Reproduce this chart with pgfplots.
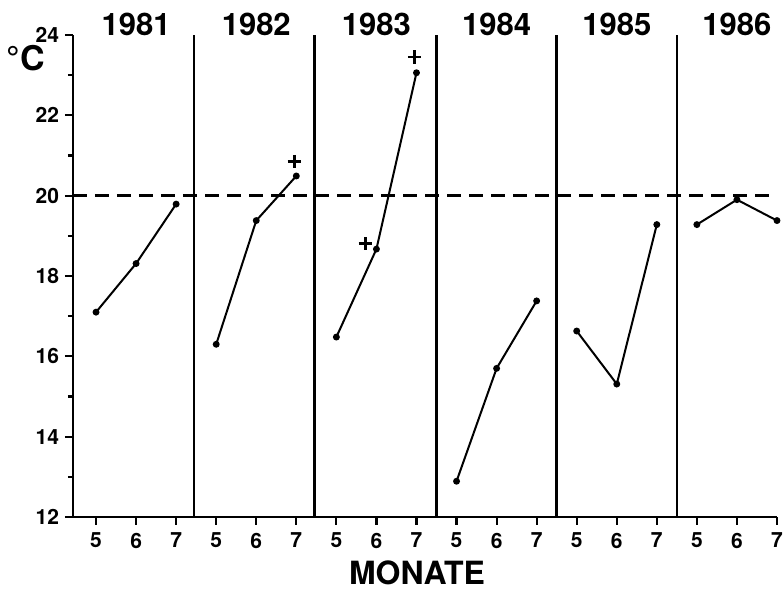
\documentclass[border=0pt]{standalone}
\usepackage{fontspec}
\setmainfont{TeX Gyre Heros}
\usepackage{pgfplots}
\pgfplotsset{compat=1.18}
\tikzset{year/.style={font=\fontsize{15.5}{18}\selectfont\bfseries, anchor=center, yshift=5.5pt}}
\begin{document}
\begin{tikzpicture}
\begin{axis}[
  at={(36.5pt,36.5pt)}, anchor=south west,
  scale only axis, width=352pt, height=241pt,
  xmin=-0.575, xmax=17, ymin=12, ymax=24,
  axis x line*=bottom, axis y line*=left,
  axis line style={line width=1.4pt, -},
  xtick={0,...,17},
  xticklabels={5,6,7,5,6,7,5,6,7,5,6,7,5,6,7,5,6,7},
  ytick={12,14,...,24},
  yticklabels={\textbf{12},\textbf{14},\textbf{16},\textbf{18},\textbf{20},\textbf{22},\textbf{24}},
  minor ytick={13,15,...,23},
  tick align=outside,
  major tick length=4pt, minor tick length=2.5pt,
  tick style={line width=1.1pt, black},
  ticklabel style={font=\fontsize{10.5}{12}\selectfont\bfseries},
  xticklabel style={yshift=-0.5pt},
  yticklabel style={xshift=0.5pt},
  clip=false,
]
% separators
\addplot[black, line width=1.3pt] coordinates {(2.45,12) (2.45,24)};
\addplot[black, line width=1.3pt] coordinates {(5.45,12) (5.45,24)};
\addplot[black, line width=1.3pt] coordinates {(8.5,12) (8.5,24)};
\addplot[black, line width=1.3pt] coordinates {(11.5,12) (11.5,24)};
\addplot[black, line width=1.3pt] coordinates {(14.5,12) (14.5,24)};
% reference line
\addplot[black, line width=1.3pt, dash pattern=on 7pt off 4pt] coordinates {(-0.575,20) (17,20)};
% data
\addplot[black, line width=1pt, mark=*, mark size=1.2pt] coordinates {(0,17.1) (1,18.31) (2,19.79)};
\addplot[black, line width=1pt, mark=*, mark size=1.2pt] coordinates {(3,16.3) (4,19.38) (5,20.49)};
\addplot[black, line width=1pt, mark=*, mark size=1.2pt] coordinates {(6,16.48) (7,18.67) (8,23.06)};
\addplot[black, line width=1pt, mark=*, mark size=1.2pt] coordinates {(9,12.89) (10,15.7) (11,17.38)};
\addplot[black, line width=1pt, mark=*, mark size=1.2pt] coordinates {(12,16.63) (13,15.31) (14,19.28)};
\addplot[black, line width=1pt, mark=*, mark size=1.2pt] coordinates {(15,19.28) (16,19.9) (17,19.38)};
% plus markers
\addplot[black, only marks, mark=+, mark size=3.3pt, line width=1.4pt] coordinates {(4.95,20.85) (6.72,18.8) (7.95,23.45)};
% year labels
\node[year] at (axis cs:1,24) {1981};
\node[year] at (axis cs:4,24) {1982};
\node[year] at (axis cs:7,24) {1983};
\node[year] at (axis cs:10,24) {1984};
\node[year] at (axis cs:13,24) {1985};
\node[year] at (axis cs:16,24) {1986};
\end{axis}
\node[font=\fontsize{17}{20}\selectfont\bfseries] at (13pt,266pt) {°C};
\node[font=\fontsize{16}{19}\selectfont\bfseries] at (208.5pt,8.5pt) {MONATE};
\pgfresetboundingbox
\path (0,0) rectangle (392pt,295pt);
\end{tikzpicture}
\end{document}
